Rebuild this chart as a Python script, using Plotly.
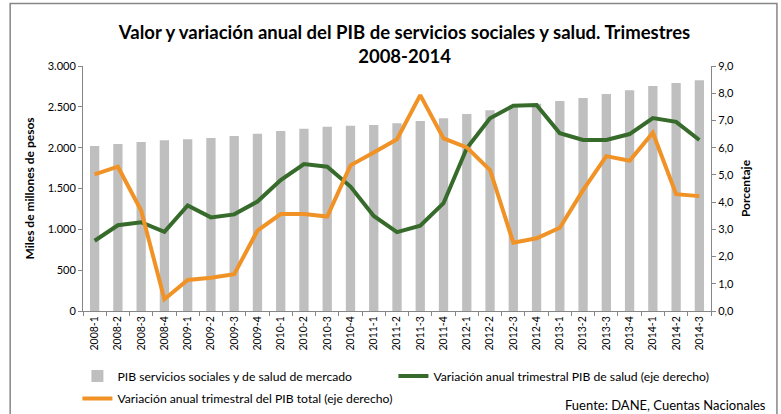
import plotly.graph_objects as go

periodos = ["2008-1", "2008-2", "2008-3", "2008-4",
            "2009-1", "2009-2", "2009-3", "2009-4",
            "2010-1", "2010-2", "2010-3", "2010-4",
            "2011-1", "2011-2", "2011-3", "2011-4",
            "2012-1", "2012-2", "2012-3", "2012-4",
            "2013-1", "2013-2", "2013-3", "2013-4",
            "2014-1", "2014-2", "2014-3"]

pib_salud = [2020, 2045, 2069, 2090, 2102, 2118, 2143, 2171,
             2204, 2233, 2257, 2269, 2278, 2298, 2327, 2359,
             2412, 2457, 2495, 2539, 2571, 2608, 2657, 2702,
             2755, 2792, 2824]

var_salud = [2.58, 3.15, 3.26, 2.91, 3.88, 3.44, 3.55, 4.02,
             4.81, 5.40, 5.30, 4.57, 3.49, 2.90, 3.13, 3.96,
             5.98, 7.08, 7.54, 7.57, 6.53, 6.28, 6.28, 6.50,
             7.09, 6.95, 6.28]

var_total = [5.02, 5.30, 3.69, 0.43, 1.14, 1.22, 1.35, 2.95,
             3.56, 3.56, 3.47, 5.35, 5.82, 6.31, 7.93, 6.34,
             6.01, 5.18, 2.51, 2.67, 3.06, 4.44, 5.69, 5.52,
             6.55, 4.29, 4.22]

FONT = "Lato"
GRIS_EJE = "#868686"

fig = go.Figure()
fig.add_trace(go.Bar(
    x=periodos, y=pib_salud,
    name="PIB servicios sociales y de salud de mercado",
    marker=dict(color="#BFBFBF", line=dict(width=0)),
    yaxis="y", legend="legend"))
fig.add_trace(go.Scatter(
    x=periodos, y=var_salud, mode="lines",
    name="Variación anual trimestral PIB de salud (eje derecho)",
    line=dict(color="#376B2B", width=4),
    yaxis="y2", legend="legend2"))
fig.add_trace(go.Scatter(
    x=periodos, y=var_total, mode="lines",
    name="Variación anual trimestral del PIB total (eje derecho)",
    line=dict(color="#F09225", width=4),
    yaxis="y2", legend="legend3"))

leg_common = dict(orientation="h", xanchor="left", yanchor="top",
                  font=dict(size=12.2), itemwidth=30,
                  bgcolor="rgba(0,0,0,0)")

fig.update_layout(
    width=781, height=414,
    margin=dict(l=83, r=70, t=66, b=103, autoexpand=False),
    paper_bgcolor="white", plot_bgcolor="white",
    separators=",.",
    font=dict(family=FONT, size=11, color="#000000"),
    bargap=0.6,
    showlegend=True,
    title=dict(
        text="<b>Valor y variación anual del PIB de servicios sociales y salud. Trimestres<br>2008-2014</b>",
        x=0.518, xanchor="center", y=0.905, yanchor="middle",
        font=dict(family=FONT, size=18.5, color="#000000")),
    xaxis=dict(
        type="category", tickangle=-90,
        tickfont=dict(size=10.5),
        showline=True, linecolor=GRIS_EJE, linewidth=1,
        ticks="outside", ticklen=4, tickcolor=GRIS_EJE,
        tickson="boundaries", showgrid=False, zeroline=False),
    yaxis=dict(
        range=[0, 3000], dtick=500, tickformat=",d",
        showline=True, linecolor=GRIS_EJE, linewidth=1,
        ticks="outside", ticklen=4, tickcolor=GRIS_EJE,
        showgrid=False, zeroline=False,
        title=dict(text="<b>Miles de millones de pesos</b>",
                   font=dict(size=12), standoff=10)),
    yaxis2=dict(
        range=[0, 9], dtick=1, tickformat=".1f",
        overlaying="y", side="right",
        showline=True, linecolor=GRIS_EJE, linewidth=1,
        ticks="outside", ticklen=4, tickcolor=GRIS_EJE,
        showgrid=False, zeroline=False,
        title=dict(text="<b>Porcentaje</b>",
                   font=dict(size=12), standoff=8)),
    legend=dict(x=-0.0089, y=-0.206, **leg_common),
    legend2=dict(x=0.4943, y=-0.206, **leg_common),
    legend3=dict(x=-0.0089, y=-0.298, **leg_common),
)

fig.add_annotation(
    text="Fuente: DANE, Cuentas Nacionales",
    xref="paper", yref="paper", x=1.09, y=-0.385,
    xanchor="right", yanchor="middle", showarrow=False,
    font=dict(size=13))

fig.add_shape(type="rect", xref="paper", yref="paper",
              x0=-0.116, x1=1.105, y0=-0.45, y1=1.255,
              line=dict(color=GRIS_EJE, width=1.5), layer="below")

fig.write_html("out.html",
               config={"displayModeBar": False},
               post_script="document.body.style.margin='0px';")
